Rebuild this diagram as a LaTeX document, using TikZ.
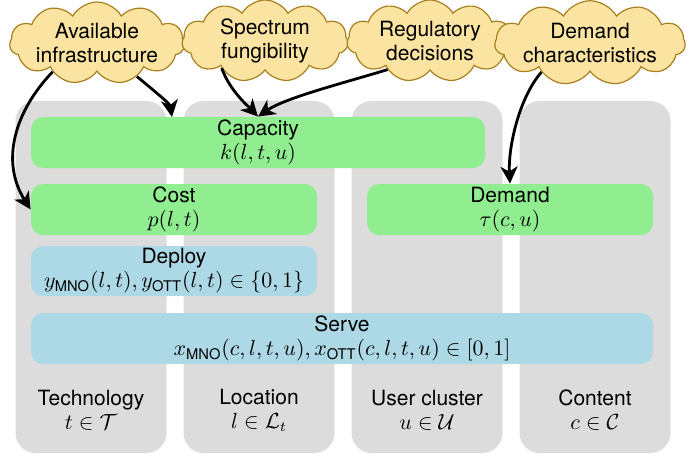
\documentclass[tikz,border=0pt]{standalone}
\usepackage{amsmath}
\usepackage{fontspec}
\setmainfont{TeX Gyre Heros}
\usetikzlibrary{shapes.symbols,arrows.meta}
\definecolor{colgray}{HTML}{DCDCDC}
\definecolor{boxgreen}{HTML}{90EE90}
\definecolor{boxblue}{HTML}{ADD8E6}
\definecolor{cloudfill}{HTML}{FBE3A1}
\definecolor{cloudline}{HTML}{A8801E}
\begin{document}
\begin{tikzpicture}[x=0.5pt,y=0.5pt,
  font=\fontsize{10.5}{12}\selectfont,
  colbox/.style={fill=colgray, rounded corners=10pt, minimum width=75.5pt, minimum height=176pt, inner sep=0pt},
  gbox/.style={fill=boxgreen, rounded corners=6pt, minimum height=25.5pt, align=center, inner sep=0pt},
  bbox/.style={fill=boxblue, rounded corners=6pt, minimum height=25.5pt, align=center, inner sep=0pt},
  collabel/.style={align=center, inner sep=0pt},
  cloudnode/.style={cloud, cloud puffs=11, cloud puff arc=120, cloud ignores aspect, draw=cloudline, fill=cloudfill, line width=0.6pt, minimum width=83pt, minimum height=41pt, align=center, inner sep=0pt},
  arr/.style={-{Stealth[length=8.5pt,width=8.5pt,inset=2.5pt]}, line width=1.4pt}]
\useasboundingbox (0,0) rectangle (689,456);
% columns
\node[colbox] (colT) at (91,179) {};
\node[colbox] (colL) at (259,179) {};
\node[colbox] (colU) at (427,179) {};
\node[colbox] (colC) at (595,179) {};
\node[collabel] (labT) at (91,46) {Technology\\$t \in \mathcal{T}$};
\node[collabel] (labL) at (259,46) {Location\\$l \in \mathcal{L}_t$};
\node[collabel] (labU) at (427,46) {User cluster\\$u \in \mathcal{U}$};
\node[collabel] (labC) at (595,46) {Content\\$c \in \mathcal{C}$};
% boxes
\node[gbox, minimum width=227pt] (cap) at (258,313.5) {Capacity\\$k(l,t,u)$};
\node[gbox, minimum width=143pt] (cost) at (174,246.5) {Cost\\$p(l,t)$};
\node[gbox, minimum width=143pt] (dem) at (510,246.5) {Demand\\$\tau(c,u)$};
\node[bbox, minimum width=143pt, minimum height=25pt] (dep) at (174,185) {Deploy\\$y_{\text{MNO}}(l,t), y_{\text{OTT}}(l,t) \in \{0,1\}$};
\node[bbox, minimum width=311pt] (serve) at (342,117.5) {Serve\\$x_{\text{MNO}}(c,l,t,u), x_{\text{OTT}}(c,l,t,u) \in [0,1]$};
% clouds
\node[cloudnode] (c1) at (97,413) {Available\\infrastructure};
\node[cloudnode] (c2) at (265,415) {Spectrum\\fungibility};
\node[cloudnode] (c3) at (430,415) {Regulatory\\decisions};
\node[cloudnode] (c4) at (590,413) {Demand\\characteristics};
% arrows
\coordinate (capin) at (172,339);
\draw[arr] (c1.213) .. controls (15,345) and (0,295) .. (cost.west);
\draw[arr] (c1.320) .. controls (158,362) and (170,352) .. (capin);
\draw[arr] (c2.212) .. controls (230,365) and (248,350) .. (cap.north);
\draw[arr] (c3.214) .. controls (340,372) and (285,358) .. (cap.north);
\draw[arr] (c4.211) .. controls (520,360) and (508,310) .. (dem.north);
\end{tikzpicture}
\end{document}
